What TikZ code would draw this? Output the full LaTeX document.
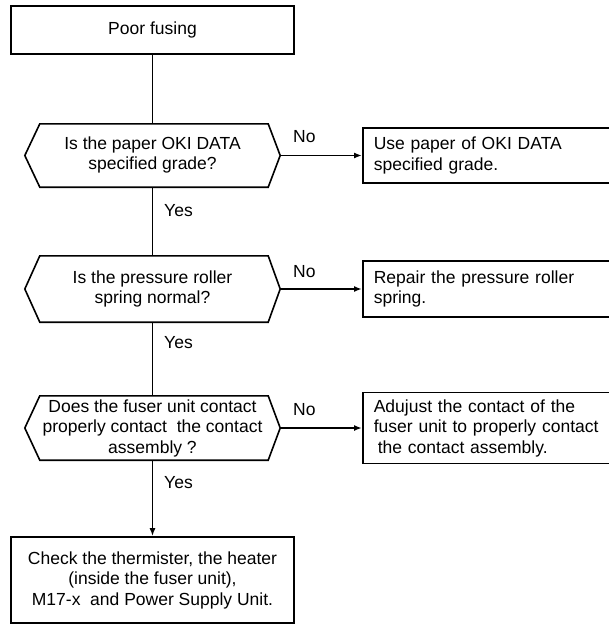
\documentclass[tikz,border=0pt]{standalone}
\usepackage{fontspec}
\setmainfont{Liberation Sans}
\usetikzlibrary{arrows.meta}
\begin{document}
\begin{tikzpicture}[x=1pt,y=-1pt,
  every node/.style={font=\fontsize{17.5}{20.5}\selectfont},
  line/.style={line width=1.6pt},
  arr/.style={line width=1.6pt,-{Latex[length=8pt,width=6pt]}},
  boxnode/.style={draw,line width=1.6pt,inner sep=0pt,align=center},
  rbox/.style={draw,line width=1.6pt,anchor=west,minimum width=250pt,text width=228pt,inner xsep=11pt,inner ysep=0pt,align=left},
  hexnode/.style={inner sep=0pt,align=center,minimum width=255pt},
  lbl/.style={inner sep=0pt,anchor=base west},
]
\useasboundingbox (0,0) rectangle (609,626);

\node[boxnode,minimum width=283pt,minimum height=48pt] (start) at (152.5,30) {Poor fusing};

\node[hexnode,minimum height=63pt] (q1) at (152.5,155.5) {\raisebox{-3pt}{\begin{tabular}{@{}c@{}}Is the paper OKI DATA\\specified grade?\end{tabular}}};
\node[hexnode,minimum height=66pt] (q2) at (152.5,289) {Is the pressure roller\\spring normal?};
\node[hexnode,minimum height=64pt] (q3) at (152.5,428) {Does the fuser unit contact\\properly contact\ \ the contact\\assembly ?};

\foreach \n in {q1,q2,q3}{
  \draw[line] (\n.west) -- ([xshift=15pt]\n.north west) -- ([xshift=-12pt]\n.north east) -- (\n.east) -- ([xshift=-12pt]\n.south east) -- ([xshift=15pt]\n.south west) -- cycle;
}

\node[rbox,minimum height=55pt] (a1) at (362,155.5) {Use paper of OKI DATA\\specified grade.};
\node[rbox,minimum height=56pt] (a2) at (362,289) {Repair the pressure roller\\spring.};
\node[rbox,minimum height=71pt] (a3) at (362,428) {Adujust the contact of the\\fuser unit to properly contact\\\hspace*{4pt}the contact assembly.};

\node[boxnode,minimum width=283pt,minimum height=86pt] (end) at (152.5,580) {Check the thermister, the heater\\(inside the fuser unit),\\M17-x\ \ and Power Supply Unit.};

\draw[line] (start) -- (q1);
\draw[line] (q1) -- (q2);
\draw[line] (q2) -- (q3);
\draw[arr] (q3) -- (end);

\draw[arr] (q1.east) -- (a1.west);
\draw[arr] (q2.east) -- (a2.west);
\draw[arr] (q3.east) -- (a3.west);

\node[lbl] (y1) at (164,216) {Yes};
\node[lbl] (y2) at (164,348) {Yes};
\node[lbl] (y3) at (164,488) {Yes};
\node[lbl] (n1) at (293,142) {No};
\node[lbl] (n2) at (293,277) {No};
\node[lbl] (n3) at (293,415) {No};
\end{tikzpicture}
\end{document}
